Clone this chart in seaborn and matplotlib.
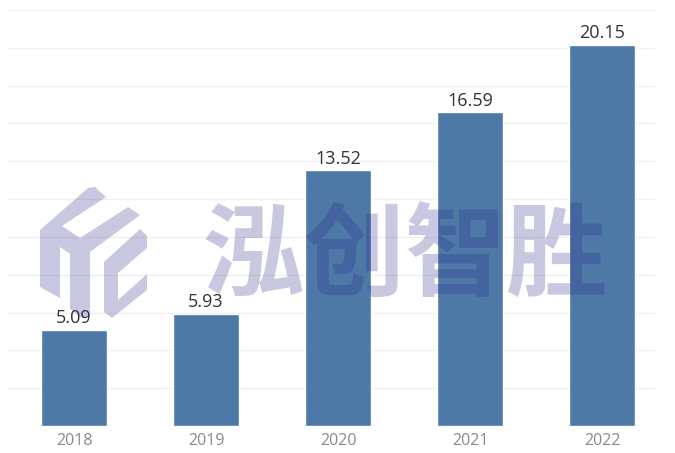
import numpy as np
import pandas as pd
import seaborn as sns
import matplotlib.pyplot as plt
from matplotlib.patches import Polygon

# data
years = ["2018", "2019", "2020", "2021", "2022"]
values = [5.09, 5.93, 13.52, 16.59, 20.15]

df = pd.DataFrame({"year": years, "value": values})

sns.set_style("white")
plt.rcParams["font.family"] = ["Open Sans", "DejaVu Sans"]

W, H = 675, 453
fig = plt.figure(figsize=(W / 100, H / 100), dpi=100)
ax = fig.add_axes([8 / W, 1 - 426 / H, 647 / W, 416 / H])

sns.barplot(data=df, x="year", y="value", color="#4e79a7", saturation=1,
            width=0.5, ax=ax, zorder=2)

ax.set_xlim(-0.5, 4.4)
ax.set_ylim(0, 22)
ax.set_yticks(np.arange(0, 23, 2))
ax.set_yticklabels([])
ax.yaxis.grid(True, color="#f0f0f0", linewidth=1, zorder=0)
ax.tick_params(axis="y", length=0)
ax.tick_params(axis="x", length=0, pad=5, labelsize=11.5, labelcolor="#8a8a8a")
ax.set_xlabel("")
ax.set_ylabel("")
sns.despine(ax=ax, left=True, top=True, right=True, bottom=True)

ax.bar_label(ax.containers[0], labels=[f"{v:.2f}" for v in values],
             padding=2, fontsize=13, color="#333333")


# watermark (logo + company name), drawn in figure pixel coords
def px(pts):
    return [(x / W, 1 - y / H) for x, y in pts]


wm = dict(facecolor="#272789", alpha=0.25, edgecolor="none",
          transform=fig.transFigure, zorder=10)
logo_left = [(40, 230), (88, 188), (95, 187), (106, 197), (62, 226),
             (80, 238), (128, 207), (140, 215), (90, 252), (90, 316),
             (82, 318), (70, 309), (70, 254), (60, 247), (60, 298),
             (40, 287)]
logo_c = [(104, 262), (140, 229), (147, 236), (147, 248), (118, 273),
          (118, 300), (147, 274), (147, 290), (112, 318), (104, 312)]
fig.add_artist(Polygon(px(logo_left), closed=True, **wm))
fig.add_artist(Polygon(px(logo_c), closed=True, **wm))

fig.text(405 / W, 1 - 258 / H, "泓创智胜", ha="center", va="center",
         fontsize=73, fontweight="bold", family=["Noto Sans CJK SC"],
         color="#272789", alpha=0.25, zorder=10)

fig.savefig("out.png", dpi=100)
